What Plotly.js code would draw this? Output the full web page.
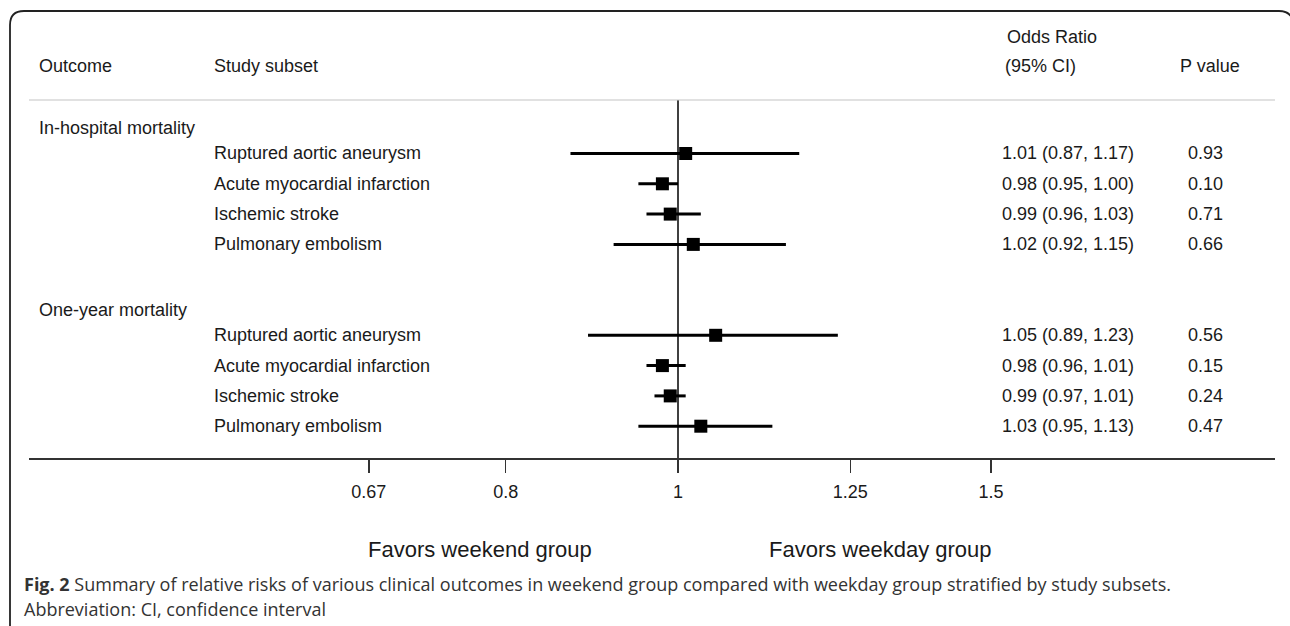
<!DOCTYPE html>
<html>
<head>
<meta charset="utf-8">
<script src="https://cdn.plot.ly/plotly-3.0.1.min.js"></script>
<style>
  html, body { margin: 0; padding: 0; background: #ffffff; }
  #chart { width: 1290px; height: 626px; }
</style>
</head>
<body>
<div id="chart"></div>
<script>
// ---- data ----
const outcomes = ['In-hospital mortality', 'One-year mortality'];
const subsets = ['Ruptured aortic aneurysm', 'Acute myocardial infarction', 'Ischemic stroke', 'Pulmonary embolism'];
const orInHospital = [1.01, 0.98, 0.99, 1.02];
const loInHospital = [0.87, 0.95, 0.96, 0.92];
const hiInHospital = [1.17, 1.00, 1.03, 1.15];
const pInHospital = ['0.93', '0.10', '0.71', '0.66'];
const orOneYear = [1.05, 0.98, 0.99, 1.03];
const loOneYear = [0.89, 0.96, 0.97, 0.95];
const hiOneYear = [1.23, 1.01, 1.01, 1.13];
const pOneYear = ['0.56', '0.15', '0.24', '0.47'];
const tickVals = [0.67, 0.8, 1, 1.25, 1.5];
const tickText = ['0.67', '0.8', '1', '1.25', '1.5'];
const headerOutcome = 'Outcome';
const headerSubset = 'Study subset';
const headerOR1 = 'Odds Ratio';
const headerOR2 = '(95% CI)';
const headerP = 'P value';
const favorLeft = 'Favors weekend group';
const favorRight = 'Favors weekday group';
const captionBold = 'Fig. 2';
const captionText = ' Summary of relative risks of various clinical outcomes in weekend group compared with weekday group stratified by study subsets.';
const captionLine2 = 'Abbreviation: CI, confidence interval';

// ---- layout helpers (pixel -> paper) ----
const W = 1290, H = 626;
const px = v => v / W;
const py = v => 1 - v / H;

const groups = [
  {name: outcomes[0], or: orInHospital, lo: loInHospital, hi: hiInHospital, p: pInHospital},
  {name: outcomes[1], or: orOneYear, lo: loOneYear, hi: hiOneYear, p: pOneYear}
];

const ciX = [], ciY = [], ptX = [], ptY = [];
const annotations = [];
const FONT = 'Liberation Sans, Arial, Helvetica, sans-serif';
const TXT = '#1a1a1a';
const CAPFONT = 'Open Sans, Noto Sans, sans-serif';

function addText(text, x, y, yref, xanchor, size, extra) {
  annotations.push(Object.assign({
    text: text, x: x, y: y, xref: 'paper', yref: yref,
    xanchor: xanchor, yanchor: 'middle', showarrow: false,
    font: {family: FONT, size: size, color: TXT}
  }, extra || {}));
}

groups.forEach((g, gi) => {
  const base = gi * 6;
  addText(g.name, px(37), base, 'y', 'left', 18, {yshift: -5});
  g.or.forEach((v, i) => {
    const row = base + 1 + i;
    ciX.push(g.lo[i], g.hi[i], null);
    ciY.push(row, row, null);
    ptX.push(v);
    ptY.push(row);
    addText(subsets[i], px(212), row, 'y', 'left', 18);
    addText(v.toFixed(2) + ' (' + g.lo[i].toFixed(2) + ', ' + g.hi[i].toFixed(2) + ')', px(1000), row, 'y', 'left', 18);
    addText(g.p[i], px(1205), row, 'y', 'center', 18);
  });
});

// column headers
addText(headerOutcome, px(37), py(66), 'paper', 'left', 18);
addText(headerSubset, px(212), py(66), 'paper', 'left', 18);
addText(headerOR1, px(1052), py(37), 'paper', 'center', 18);
addText(headerOR2, px(1040), py(66), 'paper', 'center', 18);
addText(headerP, px(1210), py(66), 'paper', 'center', 18);

// favors labels
addText(favorLeft, px(480), py(549), 'paper', 'center', 22);
addText(favorRight, px(880), py(549), 'paper', 'center', 22);

// caption
annotations.push({
  text: '<b>' + captionBold + '</b>' + captionText,
  x: px(22), y: py(584), xref: 'paper', yref: 'paper', xanchor: 'left', yanchor: 'middle',
  showarrow: false, font: {family: CAPFONT, size: 18, color: '#333333'}
});
annotations.push({
  text: captionLine2,
  x: px(22), y: py(609), xref: 'paper', yref: 'paper', xanchor: 'left', yanchor: 'middle',
  showarrow: false, font: {family: CAPFONT, size: 18, color: '#333333'}
});

// ---- axis geometry ----
const PXPERDEC = 1778;           // pixels per decade of the log axis
const xRef = 678, xL = 29, xR = 1275;
const rowPitch = 30.3, row0 = 123.2; // pixel of row index 0, pixel per row
const yTop = 100, yBot = 458;

const traces = [
  {
    type: 'scatter', mode: 'lines', x: ciX, y: ciY,
    line: {color: '#000000', width: 3}, hoverinfo: 'skip', showlegend: false
  },
  {
    type: 'scatter', mode: 'markers', x: ptX, y: ptY,
    marker: {symbol: 'square', size: 13, color: '#000000', line: {width: 0}},
    hoverinfo: 'skip', showlegend: false
  }
];

// frame path with rounded top corners (right edge falls just outside the picture)
const r = 14, fl = 10, ft = 11, fr = 1293;
const framePath = 'M ' + px(fl) + ',' + py(H + 5) +
  ' L ' + px(fl) + ',' + py(ft + r) +
  ' Q ' + px(fl) + ',' + py(ft) + ' ' + px(fl + r) + ',' + py(ft) +
  ' L ' + px(fr - r) + ',' + py(ft) +
  ' Q ' + px(fr) + ',' + py(ft) + ' ' + px(fr) + ',' + py(ft + r) +
  ' L ' + px(fr) + ',' + py(H + 5);

const layout = {
  width: W, height: H,
  margin: {l: 0, r: 0, t: 0, b: 0, pad: 0},
  paper_bgcolor: '#ffffff', plot_bgcolor: '#ffffff',
  showlegend: false,
  xaxis: {
    type: 'log',
    domain: [px(xL), px(xR)],
    range: [-(xRef - xL) / PXPERDEC, (xR - xRef) / PXPERDEC],
    tickvals: tickVals, ticktext: tickText,
    ticks: 'outside', ticklen: 13, tickwidth: 1.5, tickcolor: '#333333',
    showline: true, linecolor: '#333333', linewidth: 1.5,
    showgrid: false, zeroline: false,
    tickfont: {family: FONT, size: 18, color: TXT},
    ticklabelstandoff: 4,
    fixedrange: true
  },
  yaxis: {
    domain: [py(yBot), py(yTop)],
    range: [(yBot - row0) / rowPitch, (yTop - row0) / rowPitch],
    showline: false, showgrid: false, zeroline: false, showticklabels: false, ticks: '',
    fixedrange: true
  },
  shapes: [
    {type: 'line', xref: 'x', yref: 'y domain', x0: 1, x1: 1, y0: 0, y1: 1,
     line: {color: '#000000', width: 1.5}},
    {type: 'line', xref: 'paper', yref: 'paper', x0: px(xL), x1: px(xR), y0: py(yTop), y1: py(yTop),
     line: {color: '#c4c4c4', width: 1.2}},
    {type: 'path', xref: 'paper', yref: 'paper', path: framePath,
     line: {color: '#222222', width: 1.8}}
  ],
  annotations: annotations
};

Plotly.newPlot('chart', traces, layout, {displayModeBar: false, staticPlot: true});
</script>
</body>
</html>
